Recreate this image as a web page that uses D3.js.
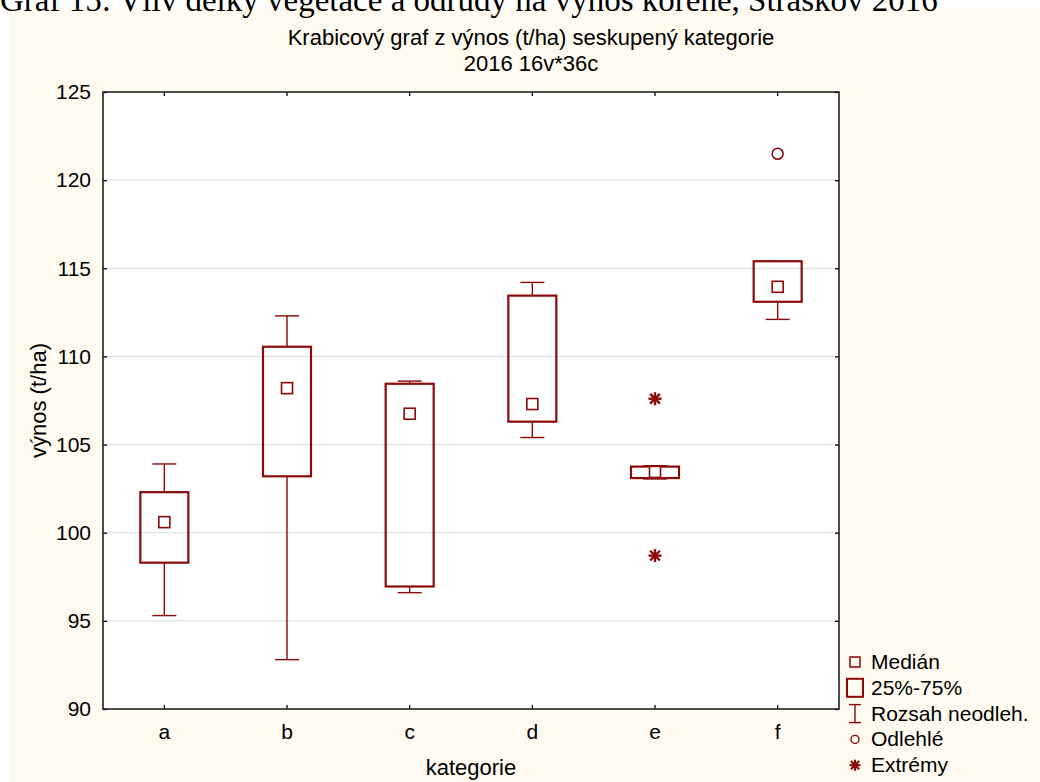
<!DOCTYPE html>
<html>
<head>
<meta charset="utf-8">
<script src="https://cdn.jsdelivr.net/npm/d3@7"></script>
<style>
  body { margin: 0; background: #fff; }
  svg { display: block; }
  text { font-family: "Liberation Sans", Arial, sans-serif; fill: #000; }
</style>
</head>
<body>
<div id="chart"></div>
<script>
// box plot data
var categories = ["a", "b", "c", "d", "e", "f"];
var whiskerLow = [95.3, 92.8, 96.6, 105.4, 103.05, 112.1];
var q1 = [98.3, 103.2, 96.95, 106.3, 103.1, 113.1];
var median = [100.6, 108.2, 106.75, 107.3, 103.45, 113.95];
var q3 = [102.3, 110.55, 108.45, 113.45, 103.75, 115.4];
var whiskerHigh = [103.9, 112.3, 108.6, 114.2, 103.8, 115.4];
// [category, value]
var outliers = [["f", 121.5]];
var extremes = [["e", 107.6], ["e", 98.7]];
var yTicks = [90, 95, 100, 105, 110, 115, 120, 125];
var legendLabels = ["Medián", "25%-75%", "Rozsah neodleh.", "Odlehlé", "Extrémy"];

var W = 1040, H = 782;
var margin = { top: 92, right: 201, bottom: 73, left: 103 },
  width = W - margin.left - margin.right,
  height = H - margin.top - margin.bottom;
var red = "#8b0a0a";

var svg = d3.select("#chart").append("svg")
  .attr("width", W).attr("height", H);

// cream page background
svg.append("rect").attr("x", 9).attr("y", 8)
  .attr("width", W - 9).attr("height", H - 8).attr("fill", "#fefaef");

// caption from the document, cut off at the top
svg.append("text").attr("x", 0).attr("y", 11)
  .style("font-family", "'Liberation Serif', 'Times New Roman', serif")
  .style("font-size", "33px")
  .text("Graf 15: Vliv délky vegetace a odrůdy na výnos kořene, Straškov 2016");

// titles
svg.append("text").attr("x", 531).attr("y", 45).attr("text-anchor", "middle")
  .style("font-size", "22px").text("Krabicový graf z výnos (t/ha) seskupený kategorie");
svg.append("text").attr("x", 531).attr("y", 71).attr("text-anchor", "middle")
  .style("font-size", "22px").text("2016 16v*36c");

var g = svg.append("g")
  .attr("transform", "translate(" + margin.left + "," + margin.top + ")");

var x = d3.scaleBand().domain(categories).range([0, width]);
var y = d3.scaleLinear().domain([90, 125]).range([height, 0]);
var cx = function (c) { return x(c) + x.bandwidth() / 2; };

g.append("rect").attr("width", width).attr("height", height).attr("fill", "#fff");

// gridlines
g.selectAll(".grid").data(yTicks.slice(1, -1)).enter().append("line")
  .attr("x1", 0).attr("x2", width)
  .attr("y1", function (d) { return y(d); }).attr("y2", function (d) { return y(d); })
  .attr("stroke", "#dcdcdc").attr("stroke-width", 1);

// axes with inward ticks on all sides
var axL = g.append("g").call(d3.axisLeft(y).tickValues(yTicks).tickSize(-4).tickPadding(12));
var axR = g.append("g").attr("transform", "translate(" + width + ",0)")
  .call(d3.axisRight(y).tickValues(yTicks).tickSize(-4).tickFormat(""));
var axB = g.append("g").attr("transform", "translate(0," + height + ")")
  .call(d3.axisBottom(x).tickSize(-4).tickPadding(15));
var axT = g.append("g").call(d3.axisTop(x).tickSize(-4).tickFormat(""));
[axL, axR, axB, axT].forEach(function (a) {
  a.select(".domain").remove();
  a.selectAll("line").attr("stroke", "#000").attr("stroke-width", 1.3);
  a.selectAll("text").style("font-size", "21px")
    .style("font-family", "'Liberation Sans', Arial, sans-serif");
});

g.append("rect").attr("width", width).attr("height", height)
  .attr("fill", "none").attr("stroke", "#222").attr("stroke-width", 1.6);

// axis titles
svg.append("text").attr("transform", "translate(46," + (margin.top + height / 2) + ") rotate(-90)")
  .attr("text-anchor", "middle").style("font-size", "22px").text("výnos (t/ha)");
svg.append("text").attr("x", margin.left + width / 2).attr("y", 775)
  .attr("text-anchor", "middle").style("font-size", "22px").text("kategorie");

// boxes
var boxW = 48, capW = 24, medS = 11;
var boxes = g.selectAll(".box").data(categories).enter().append("g").attr("class", "box");

boxes.append("line")
  .attr("x1", function (d) { return cx(d); }).attr("x2", function (d) { return cx(d); })
  .attr("y1", function (d, i) { return y(whiskerHigh[i]); })
  .attr("y2", function (d, i) { return y(q3[i]); })
  .attr("stroke", red).attr("stroke-width", 1.4);
boxes.append("line")
  .attr("x1", function (d) { return cx(d); }).attr("x2", function (d) { return cx(d); })
  .attr("y1", function (d, i) { return y(q1[i]); })
  .attr("y2", function (d, i) { return y(whiskerLow[i]); })
  .attr("stroke", red).attr("stroke-width", 1.4);
[whiskerHigh, whiskerLow].forEach(function (arr) {
  boxes.append("line")
    .attr("x1", function (d) { return cx(d) - capW / 2; })
    .attr("x2", function (d) { return cx(d) + capW / 2; })
    .attr("y1", function (d, i) { return y(arr[i]); })
    .attr("y2", function (d, i) { return y(arr[i]); })
    .attr("stroke", red).attr("stroke-width", 1.4);
});
boxes.append("rect")
  .attr("x", function (d) { return cx(d) - boxW / 2; })
  .attr("y", function (d, i) { return y(q3[i]); })
  .attr("width", boxW)
  .attr("height", function (d, i) { return y(q1[i]) - y(q3[i]); })
  .attr("fill", "none").attr("stroke", red).attr("stroke-width", 2.2);
boxes.append("rect")
  .attr("x", function (d) { return cx(d) - medS / 2; })
  .attr("y", function (d, i) { return y(median[i]) - medS / 2; })
  .attr("width", medS).attr("height", medS)
  .attr("fill", "#fff").attr("stroke", red).attr("stroke-width", 1.6);

// outliers
g.selectAll(".outlier").data(outliers).enter().append("circle")
  .attr("cx", function (d) { return cx(d[0]); })
  .attr("cy", function (d) { return y(d[1]); })
  .attr("r", 5.5).attr("fill", "none").attr("stroke", red).attr("stroke-width", 1.6);

// extremes as asterisks
function star(sel, s, w) {
  var a = s * 0.75;
  var segs = [[-s, 0, s, 0], [0, -s, 0, s], [-a, -a, a, a], [-a, a, a, -a]];
  segs.forEach(function (p) {
    sel.append("line").attr("x1", p[0]).attr("y1", p[1]).attr("x2", p[2]).attr("y2", p[3])
      .attr("stroke", red).attr("stroke-width", w);
  });
}
g.selectAll(".extreme").data(extremes).enter().append("g")
  .attr("transform", function (d) { return "translate(" + cx(d[0]) + "," + y(d[1]) + ")"; })
  .each(function () { star(d3.select(this), 6.5, 2.4); });

// legend
var lx = 855, ly = 662, step = 25.8;
var leg = svg.append("g");
leg.selectAll("text").data(legendLabels).enter().append("text")
  .attr("x", lx + 16).attr("y", function (d, i) { return ly + i * step + 7; })
  .style("font-size", "21px").text(function (d) { return d; });
leg.append("rect").attr("x", lx - 5).attr("y", ly - 5).attr("width", 10).attr("height", 10)
  .attr("fill", "none").attr("stroke", red).attr("stroke-width", 1.5);
leg.append("rect").attr("x", lx - 8).attr("y", ly + step - 9).attr("width", 16).attr("height", 18)
  .attr("fill", "none").attr("stroke", red).attr("stroke-width", 2);
var ry = ly + 2 * step;
leg.append("line").attr("x1", lx).attr("x2", lx).attr("y1", ry - 9).attr("y2", ry + 9)
  .attr("stroke", red).attr("stroke-width", 1.4);
leg.append("line").attr("x1", lx - 6).attr("x2", lx + 6).attr("y1", ry - 9).attr("y2", ry - 9)
  .attr("stroke", red).attr("stroke-width", 1.4);
leg.append("line").attr("x1", lx - 6).attr("x2", lx + 6).attr("y1", ry + 9).attr("y2", ry + 9)
  .attr("stroke", red).attr("stroke-width", 1.4);
leg.append("circle").attr("cx", lx).attr("cy", ly + 3 * step).attr("r", 4)
  .attr("fill", "none").attr("stroke", red).attr("stroke-width", 1.4);
var sg = leg.append("g").attr("transform", "translate(" + lx + "," + (ly + 4 * step) + ")");
star(sg, 5.5, 2.2);
</script>
</body>
</html>
